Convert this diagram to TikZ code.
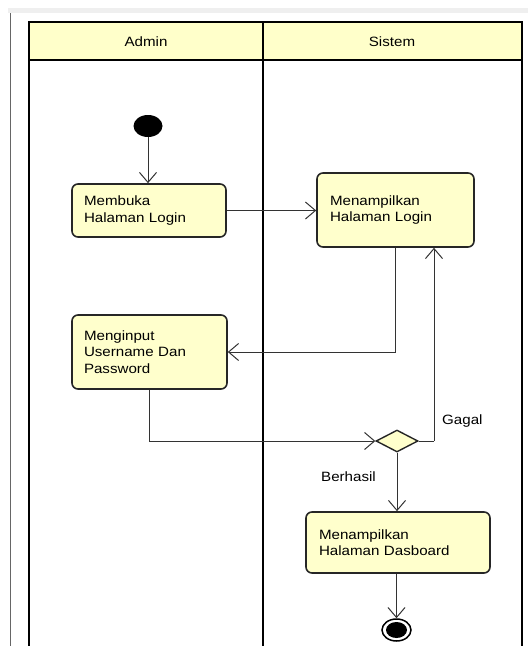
\documentclass[tikz,border=0pt]{standalone}
\usepackage{fontspec}
\setmainfont{Liberation Sans}[FakeStretch=1.12]
\usetikzlibrary{shapes.geometric,arrows.meta}
\definecolor{lanefill}{HTML}{FFFFCA}
\definecolor{actfill}{HTML}{FFFFCC}
\definecolor{strip}{HTML}{EFEFEF}
\tikzset{
  lane/.style={line width=2.2pt, draw=black},
  action/.style={draw=black!85, line width=1.6pt, fill=actfill, rounded corners=6pt,
    align=left, inner xsep=12pt, inner ysep=0pt,
    font=\fontsize{13.5}{16.5}\selectfont},
  flow/.style={draw=black!80, line width=1pt,
    -{Straight Barb[length=10pt,width=17pt,line width=1pt]}},
  plain/.style={draw=black!80, line width=1pt},
  lbl/.style={font=\fontsize{13.5}{16}\selectfont, inner sep=0pt},
  decision/.style={diamond, draw=black!85, line width=1.4pt, fill=actfill,
    minimum width=42pt, minimum height=22pt, inner sep=0pt},
}
\begin{document}
\begin{tikzpicture}[x=1pt,y=-1pt]
\useasboundingbox (0,0) rectangle (528,646);
\fill[white] (0,0) rectangle (528,646);
% window frame
\fill[strip] (8,8) rectangle (528,12.5);
\draw[gray!80!black, line width=1.3pt] (10.5,13) -- (10.5,646);

% swimlanes
\fill[lanefill] (29,22) rectangle (522,60);
\draw[lane] (29,646) -- (29,22) -- (522,22) -- (522,646);
\draw[lane] (29,60) -- (522,60);
\draw[lane] (263,22) -- (263,646);
\node[lbl] (hadmin) at (146,42) {Admin};
\node[lbl] (hsistem) at (392,42) {Sistem};

% nodes
\node[ellipse, fill=black, minimum width=29pt, minimum height=22pt, inner sep=0pt] (start) at (148,126) {};
\node[action, minimum width=154pt, minimum height=53pt, text width=130pt] (b1) at (149,210.5) {Membuka\\Halaman Login};
\node[action, minimum width=155pt, minimum height=74pt, text width=131pt, inner xsep=13pt] (b3) at (395.5,210) {Menampilkan\\Halaman Login};
\node[action, minimum width=155pt, minimum height=74pt, text width=131pt] (b2) at (149.5,352) {Menginput\\Username Dan\\Password};
\node[decision] (d) at (397,441) {};
\node[action, minimum width=182pt, minimum height=61pt, text width=158pt, inner xsep=13pt] (b4) at (398,542.5) {Menampilkan\\Halaman Dasboard};
\node[ellipse, draw=black, line width=1.5pt, fill=white, minimum width=29pt, minimum height=22pt, inner sep=0pt] (end) at (396.5,630) {};
\fill[black] (end.center) ellipse [x radius=10.5pt, y radius=8pt];

% flows
\draw[flow] (start.south) -- (start.south |- b1.north);
\draw[flow] (b1.east) -- (b1.east -| b3.west);
\draw[flow] (b3.south) |- (b2.east);
\draw[flow] (b2.south) |- (d.west);
\coordinate (g) at (434,441);
\draw[plain] (d.east) -- (g);
\draw[flow] (g) -- (g |- b3.south);
\draw[flow] (d.south) -- (d.south |- b4.north);
\draw[flow] (end.north |- b4.south) -- (end.north);

% guards
\node[lbl, anchor=west] (gagal) at (442,421) {Gagal};
\node[lbl, anchor=west] (berhasil) at (321,477) {Berhasil};
\end{tikzpicture}
\end{document}
